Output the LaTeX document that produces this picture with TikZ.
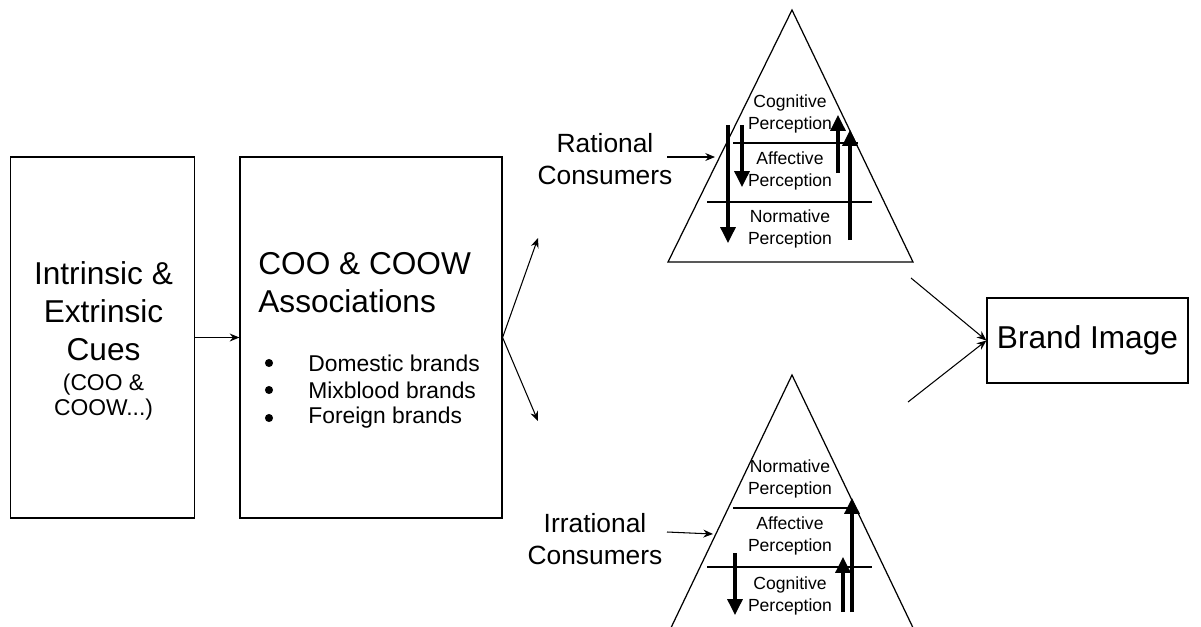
\documentclass[tikz,border=0pt]{standalone}
\usepackage{fontspec}
\setmainfont{Liberation Sans}
\usetikzlibrary{arrows.meta,positioning}

\begin{document}
\begin{tikzpicture}[x=0.02cm,y=-0.02cm,
  box/.style={draw,line width=0.7pt,inner sep=0pt},
  thinarrow/.style={-{Stealth[length=5.5pt,width=4.5pt]},line width=0.6pt},
  thickarrow/.style={-{Triangle[length=9pt,width=8.5pt]},line width=1.8pt},
  percept/.style={font=\fontsize{10}{12.5}\selectfont,align=center,inner sep=0pt},
  bigtext/.style={font=\fontsize{18}{21.6}\selectfont,inner sep=0pt},
  midtext/.style={font=\fontsize{13}{14.5}\selectfont,inner sep=0pt}]
  \useasboundingbox (0,0) rectangle (1201,626);
  \clip (0,0) rectangle (1201,626);

  % boxes
  \node[box,minimum width=3.69cm,minimum height=7.22cm] (cuesbox) at (102.5,337.5) {};
  \node[box,minimum width=5.24cm,minimum height=7.22cm] (assocbox) at (371,337.5) {};
  \node[box,minimum width=4.02cm,minimum height=1.7cm] (brand) at (1087.5,340.5) {};

  % box texts
  \node[bigtext,align=center] (cues) at (103.5,311) {Intrinsic \&\\Extrinsic\\Cues};
  \node[midtext,align=center] (cuesnote) at (103.5,397) {(COO \&\\COOW...)};
  \node[bigtext,align=left,anchor=west] (assoc) at (258,283) {COO \& COOW\\Associations};
  \foreach \y/\t in {363/Domestic brands, 390/Mixblood brands, 418/Foreign brands} {
    \fill (269,\y) circle (2.3pt);
    \node[midtext,anchor=west] (brand\y) at (308,\y) {\t};
  }
  \node[bigtext] (brandtext) at (brand.center) {Brand Image};

  % arrows between boxes
  \coordinate (ratin) at (538,238);
  \coordinate (irrin) at (538,421);
  \draw[thinarrow] (cuesbox.east) -- (assocbox.west);
  \draw[thinarrow] (assocbox.east) -- (ratin);
  \draw[thinarrow] (assocbox.east) -- (irrin);

  % pyramids
  \draw[line width=0.7pt] (792,10) -- (668,262) -- (913,262) -- cycle;
  \draw[line width=0.7pt] (668,634) -- (792,375) -- (916,634);
  \draw[line width=0.7pt] (733,143) -- (858,143);
  \draw[line width=0.7pt] (707,202) -- (872,202);
  \draw[line width=0.7pt] (733,508) -- (850,508);
  \draw[line width=0.7pt] (707,567) -- (872,567);

  % perception layers
  \foreach \y/\l/\n in {114/Cognitive/cogtop, 171/Affective/afftop, 229/Normative/nortop,
                        479/Normative/norbot, 536/Affective/affbot, 596/Cognitive/cogbot} {
    \node[percept] (\n) at (790,\y) {\l\\Perception};
  }

  % arrows in pyramids
  \foreach \x/\a/\b in {728/125/243, 742/125/187, 838/173/115, 850/240/130,
                        735/553/615, 843/612/557, 852/612/498} {
    \draw[thickarrow] (\x,\a) -- (\x,\b);
  }

  % consumer groups
  \node[font=\fontsize{15}{18}\selectfont,align=center,inner sep=0pt] (rational) at (605,159) {Rational\\Consumers};
  \node[font=\fontsize{15}{18}\selectfont,align=center,inner sep=0pt] (irrational) at (595,539) {Irrational\\Consumers};
  \coordinate (ratfrom) at (667,157);
  \coordinate (ratto) at (715,157);
  \coordinate (irrfrom) at (667,532);
  \coordinate (irrto) at (713,534);
  \draw[thinarrow] (ratfrom) -- (ratto);
  \draw[thinarrow] (irrfrom) -- (irrto);

  % towards brand image
  \coordinate (topout) at (911,278);
  \coordinate (botout) at (908,402);
  \draw[thinarrow] (topout) -- (brand.west);
  \draw[thinarrow] (botout) -- (brand.west);
\end{tikzpicture}
\end{document}
